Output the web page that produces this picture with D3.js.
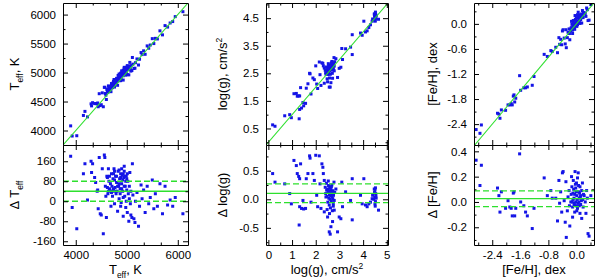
<!DOCTYPE html>
<html><head><meta charset="utf-8">
<script src="https://cdn.jsdelivr.net/npm/d3@7"></script>
<style>
body{margin:0;background:#fff}
svg{display:block}
text{font-family:"Liberation Sans",Arial,Helvetica,sans-serif;fill:#000}
</style>
</head><body>
<svg id="c" width="600" height="279"></svg>
<script>
// ---------- DATA ----------
// [reference value, difference (this work - reference)]
const teffPoints = [
[3900,180],[3930,-25],[4020,-110],[4150,110],[4180,150],[4230,5],[4300,160],[4310,115],[4330,150],[4370,95],
[4390,75],[4420,40],[4430,45],[4440,-30],[4460,175],[4480,-50],[4500,-55],[4520,130],[4540,-130],[4560,185],
[4570,175],[4580,60],[4590,20],[4600,-65],[4610,100],[4620,55],[4630,30],[4640,130],[4650,80],[4660,50],
[4670,45],[4680,70],[4690,-20],[4700,110],[4710,60],[4720,20],[4730,90],[4740,50],[4750,130],[4760,-10],
[4770,55],[4780,100],[4790,30],[4800,75],[4810,40],[4820,-40],[4830,120],[4840,60],[4850,10],[4860,90],
[4870,50],[4880,110],[4890,-5],[4900,70],[4910,105],[4920,40],[4930,-60],[4940,95],[4950,120],[4960,20],
[4970,60],[4980,-25],[4990,100],[5000,45],[5010,-45],[5020,80],[5030,30],[5040,-80],[5050,10],[5060,115],
[5070,-10],[5080,40],[5100,-65],[5110,150],[5120,25],[5140,-70],[5160,-85],[5170,0],[5200,35],[5230,-100],
[5250,-20],[5280,65],[5300,10],[5330,45],[5360,-45],[5400,60],[5430,-10],[5460,15],[5500,85],[5530,-30],
[5560,30],[5600,-20],[5650,70],[5700,-50],[5750,60],[5800,-15],[5850,5],[5900,-20],[5950,15],[6100,-50],
[4720,40],[4760,85],[4800,100],[4820,60],[4850,70],[4870,30],[4880,95],[4900,50],[4920,85],[4930,110],
[4950,60],[4960,100],[4980,80],[5000,90],[4780,40],[4740,110],[4700,35],[4660,100],[4640,40],[4620,95],
[4850,125],[4900,130],[4950,140],[4760,120],[4880,-20],[4930,15],[4990,0],[5010,110],[5050,60],[5080,-55]
];
const loggPoints = [
[0.18,0.45],[0.28,0.30],[0.69,0.27],[0.90,0.10],[0.97,-0.08],[1.08,0.68],[1.18,0.59],[1.22,0.45],[1.28,0.40],[1.32,0.36],
[1.30,-0.45],[1.32,-0.13],[1.40,-0.16],[1.49,-0.17],[1.57,-0.16],[1.36,0.62],[1.46,-0.02],[1.60,0.36],[1.67,0.45],[1.74,0.76],
[1.76,0.72],[1.80,-0.05],[1.88,0.45],[1.94,0.33],[2.00,0.77],[2.04,0.07],[2.08,-0.13],[2.15,0.76],[2.18,0.27],[2.22,-0.16],
[2.26,0.62],[2.30,0.56],[2.32,0.45],[2.36,0.33],[2.36,-0.22],[2.40,0.21],[2.43,0.04],[2.46,0.16],
[2.42,0.10],[2.45,0.28],[2.48,0.05],[2.50,0.18],[2.51,-0.05],[2.52,0.12],[2.54,0.24],[2.55,0.02],[2.56,0.15],[2.57,-0.10],
[2.58,0.08],[2.59,0.20],[2.60,0.00],[2.61,0.11],[2.62,-0.15],[2.63,0.06],[2.64,0.17],[2.65,0.09],[2.66,-0.03],[2.67,0.13],
[2.68,0.25],[2.69,0.04],[2.70,-0.20],[2.71,0.10],[2.72,0.01],[2.73,0.15],[2.74,-0.08],[2.75,0.07],[2.77,0.30],[2.78,-0.02],
[2.80,0.12],[2.48,-0.18],[2.53,0.32],[2.58,-0.25],[2.66,0.22],[2.74,-0.12],
[2.50,-0.31],[2.57,-0.57],[2.61,-0.61],[2.64,-0.48],[2.71,-0.39],[2.78,-0.19],[2.85,0.18],[2.92,-0.57],[2.99,-0.31],[3.06,-0.34],
[3.10,0.30],[3.13,-0.13],[3.26,0.13],[3.47,-0.02],[3.54,-0.36],[3.54,0.36],[3.89,0.07],[3.96,-0.08],[4.03,0.36],[4.10,-0.10],
[4.17,-0.13],[4.24,-0.08],[4.31,-0.05],[4.38,0.01],[4.40,0.07],
[4.45,0.00],[4.47,0.18],[4.48,0.12],[4.49,0.04],[4.50,0.16],[4.51,-0.12],[4.52,-0.04],[4.53,0.10],[4.54,0.06],[4.55,0.02],
[4.52,0.20],[4.50,-0.08],[4.65,-0.19]
];
const fehPoints = [
[-2.86,0.33],[-2.71,0.29],[-2.75,0.13],[-2.25,0.11],[-2.21,0.05],[-2.18,-0.08],[-2.14,0.08],[-2.02,-0.05],[-1.95,0.01],[-1.90,-0.04],
[-1.86,-0.05],[-1.83,-0.11],[-1.80,0.07],[-1.78,0.08],[-1.76,-0.11],[-1.73,-0.05],[-1.62,0.38],[-1.59,0.00],[-1.50,-0.03],[-1.45,-0.08],
[-1.40,-0.11],[-1.26,-0.21],[-1.21,-0.05],[-0.92,0.19],[-0.83,0.05],[-0.73,0.09],[-0.69,0.03],[-0.59,0.03],[-0.54,-0.15],[-0.50,0.17],
[-0.48,-0.01],[-0.45,0.08],[-0.42,-0.08],[-0.40,0.23],[-0.38,0.24],[-0.35,0.01],[-0.32,-0.16],[-0.30,0.16],[-0.29,-0.28],[-0.26,-0.07],
[-0.24,0.04],[-0.21,0.09],[-0.19,-0.19],[-0.16,0.00],
[-0.14,0.20],[-0.13,0.12],[-0.11,-0.04],[-0.11,-0.12],[-0.10,0.07],[-0.09,0.17],[-0.07,0.03],[-0.07,-0.01],[-0.05,-0.08],[-0.04,0.24],
[-0.02,0.11],[-0.02,0.00],[0.00,0.15],[0.01,0.05],[0.03,-0.05],[0.05,0.23],[0.06,0.08],[0.08,0.03],[0.08,-0.03],[0.10,-0.09],
[0.10,0.12],[0.12,0.05],[0.14,0.01],[0.15,-0.13],[0.17,0.15],[0.19,-0.04],[0.22,0.05],[0.25,0.00],[0.27,-0.09],[0.29,0.09],
[0.31,0.03],[0.33,-0.25],[0.36,-0.27],[0.41,0.05],
[-0.05,0.06],[0.02,0.02],[-0.12,0.00],[0.04,-0.01],[-0.08,0.10],[0.00,-0.03],[0.06,0.13],[-0.03,0.14],[0.12,-0.02],[0.09,0.07],
[-0.15,0.06],[-0.01,0.08],[0.03,0.19],[0.15,0.09],[-0.06,-0.02],[0.07,0.00],[0.11,0.04],[-0.10,0.02],[0.01,-0.07],[0.18,0.02],
[-0.20,-0.03],[0.20,0.06]
];
// mean offset and the two 1-sigma levels [mean, lower, upper]
const teffLines = [40, 0, 80];
const loggLines = [0.105, -0.06, 0.27];
const fehLines = [0.027, -0.037, 0.088];

// tick values
const teffXTicks = [4000, 5000, 6000];
const teffXMinor = [3667, 4333, 4667, 5333, 5667];
const teffYTicks = [4000, 4500, 5000, 5500, 6000];
const teffYMinor = [3750, 4250, 4750, 5250, 5750];
const dTeffTicks = [-160, -80, 0, 80, 160];
const dTeffMinor = [-120, -40, 40, 120, 200];
const loggXTicks = [0, 1, 2, 3, 4, 5];
const loggXMinor = [0.5, 1.5, 2.5, 3.5, 4.5];
const loggYTicks = [0.5, 1.5, 2.5, 3.5, 4.5];
const loggYMinor = [0, 1, 2, 3, 4, 5];
const dLoggTicks = [-0.5, 0.0, 0.5];
const dLoggMinor = [-0.75, -0.25, 0.25, 0.75];
const fehXTicks = [-2.4, -1.6, -0.8, 0.0];
const fehXMinor = [-2.8, -2.0, -1.2, -0.4, 0.4];
const fehYTicks = [-2.4, -1.8, -1.2, -0.6, 0.0];
const fehYMinor = [-2.7, -2.1, -1.5, -0.9, -0.3, 0.3];
const dFehTicks = [-0.2, 0.0, 0.2, 0.4];
const dFehMinor = [-0.3, -0.1, 0.1, 0.3];

// ---------- DRAWING ----------
const svg = d3.select("#c");
const TOP = 3, MID = 145, BOT = 245;
const BLUE = "#1414e6", GREEN = "#2ee02e";
const SZ = 3;
const fmt = s => (d => d3.format(s)(d).replace("\u2212", "-"));

const panels = [
  {x0: 63, x1: 188, xDom: [3750, 6200], yDom: [3750, 6200], dDom: [-175, 225],
   pts: teffPoints, lines: teffLines,
   xT: teffXTicks, xM: teffXMinor, yT: teffYTicks, yM: teffYMinor, dT: dTeffTicks, dM: dTeffMinor,
   fx: fmt("d"), fy: fmt("d"), fd: fmt("d"),
   yTitle: [["T",0],["eff",1],[", K",0]], dTitle: [["\u0394 T",0],["eff",1]], xTitle: [["T",0],["eff",1],[", K",0]], tx: 19},
  {x0: 266, x1: 388, xDom: [-0.1, 5.05], yDom: [-0.1, 5.05], dDom: [-0.8, 0.95],
   pts: loggPoints, lines: loggLines,
   xT: loggXTicks, xM: loggXMinor, yT: loggYTicks, yM: loggYMinor, dT: dLoggTicks, dM: dLoggMinor,
   fx: fmt("d"), fy: fmt(".1f"), fd: fmt(".1f"),
   yTitle: [["log(g), cm/s",0],["2",2]], dTitle: [["\u0394 log(g)",0]], xTitle: [["log(g), cm/s",0],["2",2]], tx: 227},
  {x0: 474, x1: 594, xDom: [-2.92, 0.5], yDom: [-2.9, 0.5], dDom: [-0.34, 0.45],
   pts: fehPoints, lines: fehLines,
   xT: fehXTicks, xM: fehXMinor, yT: fehYTicks, yM: fehYMinor, dT: dFehTicks, dM: dFehMinor,
   fx: fmt(".1f"), fy: fmt(".1f"), fd: fmt(".1f"),
   yTitle: [["[Fe/H], dex",0]], dTitle: [["\u0394 [Fe/H]",0]], xTitle: [["[Fe/H], dex",0]], tx: 437}
];

function addTitle(sel, parts, size) {
  const t = sel.append("text").attr("font-size", size).attr("text-anchor", "middle");
  let shift = 0;
  parts.forEach(([s, k]) => {
    const ts = t.append("tspan").text(s);
    let target = k === 1 ? 3.5 : (k === 2 ? -5.5 : 0);
    if (target !== shift) ts.attr("dy", target - shift);
    shift = target;
    if (k) ts.attr("font-size", size * 0.65);
  });
  return t;
}

function frame(g, xs, ys, xT, xM, yT, yM, fx, fy, showX) {
  const [yb, yt] = ys.range();
  const [xl, xr] = xs.range();
  const style = a => a.call(s => s.selectAll("path,line").attr("stroke", "#000").attr("stroke-width", 1))
                      .call(s => s.selectAll("text").attr("font-size", 11.5).attr("fill", "#000").attr("font-family", null));
  g.append("g").attr("transform", `translate(0,${yb})`)
    .call(d3.axisBottom(xs).tickValues(xT).tickSizeInner(-5).tickSizeOuter(0).tickPadding(6)
      .tickFormat(showX ? fx : () => "")).call(style);
  g.append("g").attr("transform", `translate(0,${yt})`)
    .call(d3.axisTop(xs).tickValues(xT).tickSizeInner(-5).tickSizeOuter(0).tickFormat(() => "")).call(style);
  g.append("g").attr("transform", `translate(${xl},0)`)
    .call(d3.axisLeft(ys).tickValues(yT).tickSizeInner(-5).tickSizeOuter(0).tickPadding(7).tickFormat(fy)).call(style);
  g.append("g").attr("transform", `translate(${xr},0)`)
    .call(d3.axisRight(ys).tickValues(yT).tickSizeInner(-5).tickSizeOuter(0).tickFormat(() => "")).call(style);
  const minor = (ax, tr) => g.append("g").attr("transform", tr)
    .call(ax.tickSizeInner(-2.5).tickSizeOuter(0).tickFormat(() => "")).call(style)
    .call(s => s.select(".domain").remove());
  const inX = v => v > xs.domain()[0] && v < xs.domain()[1];
  const inY = v => v > ys.domain()[0] && v < ys.domain()[1];
  minor(d3.axisBottom(xs).tickValues(xM.filter(inX)), `translate(0,${yb})`);
  minor(d3.axisTop(xs).tickValues(xM.filter(inX)), `translate(0,${yt})`);
  minor(d3.axisLeft(ys).tickValues(yM.filter(inY)), `translate(${xl},0)`);
  minor(d3.axisRight(ys).tickValues(yM.filter(inY)), `translate(${xr},0)`);
}

panels.forEach((p, i) => {
  const g = svg.append("g");
  const xs = d3.scaleLinear().domain(p.xDom).range([p.x0, p.x1]);
  const ys = d3.scaleLinear().domain(p.yDom).range([MID, TOP]);
  const xd = d3.scaleLinear().domain(p.xDom).range([p.x0, p.x1]);
  const ds = d3.scaleLinear().domain(p.dDom).range([BOT, MID]);

  const clipT = "clipT" + i, clipB = "clipB" + i;
  const defs = svg.append("defs");
  defs.append("clipPath").attr("id", clipT).append("rect")
    .attr("x", p.x0).attr("y", TOP).attr("width", p.x1 - p.x0).attr("height", MID - TOP);
  defs.append("clipPath").attr("id", clipB).append("rect")
    .attr("x", p.x0).attr("y", MID).attr("width", p.x1 - p.x0).attr("height", BOT - MID);

  const gt = g.append("g").attr("clip-path", `url(#${clipT})`);
  const lo = Math.max(p.xDom[0], p.yDom[0]), hi = Math.min(p.xDom[1], p.yDom[1]);
  gt.selectAll("rect").data(p.pts).join("rect")
    .attr("x", d => xs(d[0]) - SZ / 2).attr("y", d => ys(d[0] + d[1]) - SZ / 2)
    .attr("width", SZ).attr("height", SZ).attr("fill", BLUE);
  gt.append("line").attr("x1", xs(lo)).attr("y1", ys(lo)).attr("x2", xs(hi)).attr("y2", ys(hi))
    .attr("stroke", GREEN).attr("stroke-width", 1.1);

  const gb = g.append("g").attr("clip-path", `url(#${clipB})`);
  gb.selectAll("rect").data(p.pts).join("rect")
    .attr("x", d => xd(d[0]) - SZ / 2).attr("y", d => ds(d[1]) - SZ / 2)
    .attr("width", SZ).attr("height", SZ).attr("fill", BLUE);
  gb.selectAll("line").data(p.lines).join("line")
    .attr("x1", p.x0).attr("x2", p.x1).attr("y1", d => ds(d)).attr("y2", d => ds(d))
    .attr("stroke", GREEN).attr("stroke-width", 1.3)
    .attr("stroke-dasharray", (d, j) => j === 0 ? null : "6,3");

  frame(g, xs, ys, p.xT, p.xM, p.yT, p.yM, p.fx, p.fy, false);
  frame(g, xd, ds, p.xT, p.xM, p.dT, p.dM, p.fx, p.fd, true);

  const cx = (p.x0 + p.x1) / 2;
  addTitle(g.append("g").attr("transform", `translate(${p.tx},${(TOP + MID) / 2}) rotate(-90)`), p.yTitle, 13);
  addTitle(g.append("g").attr("transform", `translate(${p.tx},${(MID + BOT) / 2}) rotate(-90)`), p.dTitle, 13);
  addTitle(g.append("g").attr("transform", `translate(${cx},274)`), p.xTitle, 13);
});
</script>
</body></html>
